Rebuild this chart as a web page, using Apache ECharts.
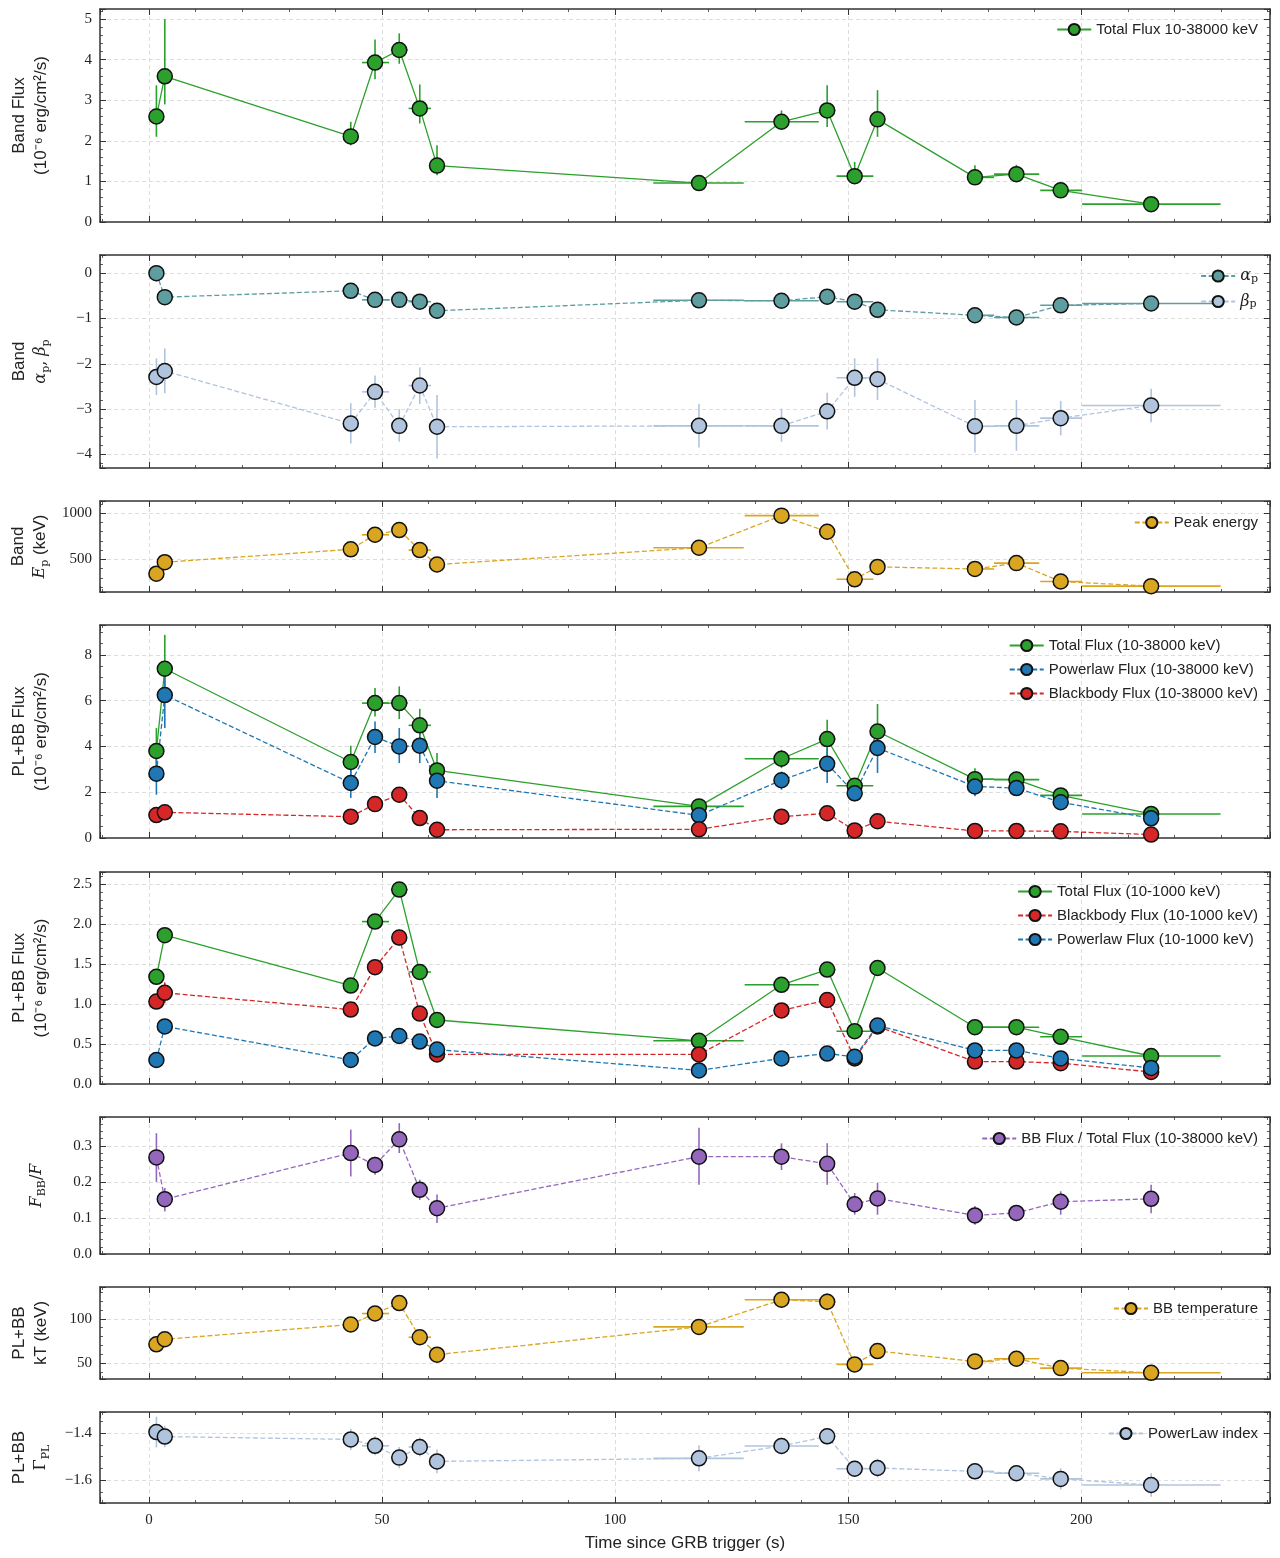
<!DOCTYPE html>
<html><head><meta charset="utf-8">
<script src="https://cdn.jsdelivr.net/npm/echarts@6/dist/echarts.min.js"></script>
<style>html,body{margin:0;padding:0;background:#fff}#c{width:1280px;height:1558px}</style>
</head><body><div id="c"></div>
<script>
// ---- time bins ----
const times = [1.6, 3.4, 43.3, 48.5, 53.7, 58.1, 61.8, 118.0, 135.7, 145.5, 151.4, 156.3, 177.2, 186.1, 195.6, 215.0];
const tLo   = [0.8, 2.4, 42.3, 45.7, 51.9, 55.7, 60.5, 108.2, 127.8, 143.7, 147.5, 155.4, 176.0, 181.3, 191.2, 200.2];
const tHi   = [2.4, 4.4, 44.3, 51.5, 55.5, 60.5, 63.1, 127.6, 143.7, 147.3, 155.4, 157.2, 181.3, 191.0, 200.2, 229.9];
const xTicks = [0, 50, 100, 150, 200];

// ---- panel 1: Band flux ----
const bandFlux   = [2.60, 3.59, 2.11, 3.93, 4.24, 2.80, 1.39, 0.96, 2.47, 2.75, 1.13, 2.53, 1.10, 1.18, 0.78, 0.44];
const bandFluxLo = [2.10, 2.90, 1.89, 3.52, 3.90, 2.43, 1.15, 0.88, 2.30, 2.34, 0.95, 2.10, 0.95, 0.99, 0.66, 0.38];
const bandFluxHi = [3.37, 5.00, 2.47, 4.50, 4.65, 3.39, 1.89, 1.05, 2.75, 3.37, 1.48, 3.25, 1.40, 1.41, 0.90, 0.50];

// ---- panel 2: Band alpha / beta ----
const alphaP    = [0.00, -0.53, -0.39, -0.59, -0.59, -0.63, -0.83, -0.60, -0.61, -0.52, -0.63, -0.81, -0.93, -0.98, -0.71, -0.67];
const alphaErr  = [0.18, 0.08, 0.06, 0.05, 0.05, 0.06, 0.07, 0.04, 0.05, 0.05, 0.06, 0.05, 0.05, 0.05, 0.04, 0.03];
const betaP     = [-2.29, -2.16, -3.32, -2.62, -3.37, -2.48, -3.39, -3.37, -3.37, -3.05, -2.31, -2.34, -3.38, -3.37, -3.20, -2.92];
const betaLo    = [-2.69, -2.65, -3.76, -2.97, -3.72, -2.89, -4.09, -3.85, -3.72, -3.45, -2.73, -2.80, -3.96, -3.92, -3.58, -3.29];
const betaHi    = [-1.88, -1.66, -2.87, -2.26, -3.00, -2.08, -2.69, -2.89, -2.99, -2.64, -1.88, -1.88, -2.80, -2.80, -2.82, -2.55];

// ---- panel 3: Band peak energy ----
const peakE    = [345, 469, 608, 765, 816, 600, 444, 625, 972, 798, 284, 418, 396, 459, 260, 210];
const peakEErr = [70, 60, 50, 45, 55, 55, 65, 70, 80, 90, 40, 50, 50, 50, 40, 30];

// ---- panel 4: PL+BB flux 10-38000 keV ----
const tot38   = [3.80, 7.39, 3.32, 5.89, 5.89, 4.92, 2.95, 1.38, 3.46, 4.32, 2.28, 4.65, 2.57, 2.55, 1.86, 1.05];
const tot38Lo = [2.76, 6.62, 2.62, 5.31, 5.19, 4.22, 2.25, 1.10, 3.05, 3.49, 1.82, 3.85, 2.18, 2.18, 1.60, 0.90];
const tot38Hi = [4.80, 8.87, 4.03, 6.55, 6.62, 5.64, 3.71, 1.68, 3.85, 5.16, 2.55, 5.85, 3.05, 2.90, 2.18, 1.20];
const pl38    = [2.81, 6.24, 2.40, 4.41, 4.00, 4.03, 2.50, 0.99, 2.52, 3.24, 1.95, 3.93, 2.25, 2.18, 1.56, 0.86];
const pl38Lo  = [1.89, 4.80, 1.75, 3.71, 3.27, 3.27, 1.75, 0.65, 2.11, 2.40, 1.60, 2.84, 1.82, 1.89, 1.24, 0.65];
const pl38Hi  = [3.78, 7.49, 3.13, 5.09, 4.80, 4.80, 3.27, 1.30, 2.90, 3.93, 2.25, 4.95, 2.62, 2.55, 1.82, 1.09];
const bb38    = [1.00, 1.12, 0.93, 1.48, 1.89, 0.87, 0.36, 0.38, 0.93, 1.08, 0.33, 0.73, 0.31, 0.31, 0.29, 0.15];
const bb38Err = [0.15, 0.15, 0.10, 0.12, 0.14, 0.10, 0.06, 0.06, 0.10, 0.12, 0.06, 0.08, 0.05, 0.05, 0.05, 0.04];

// ---- panel 5: PL+BB flux 10-1000 keV ----
const tot1k    = [1.34, 1.86, 1.23, 2.03, 2.43, 1.40, 0.80, 0.54, 1.24, 1.43, 0.66, 1.45, 0.71, 0.71, 0.59, 0.35];
const tot1kErr = [0.03, 0.08, 0.03, 0.04, 0.05, 0.03, 0.02, 0.02, 0.03, 0.04, 0.02, 0.03, 0.02, 0.02, 0.02, 0.02];
const bb1k     = [1.03, 1.14, 0.93, 1.46, 1.83, 0.88, 0.37, 0.37, 0.92, 1.05, 0.32, 0.72, 0.28, 0.28, 0.26, 0.15];
const bb1kErr  = [0.06, 0.13, 0.05, 0.07, 0.10, 0.06, 0.04, 0.04, 0.06, 0.09, 0.03, 0.05, 0.03, 0.03, 0.03, 0.02];
const pl1k     = [0.30, 0.72, 0.30, 0.57, 0.60, 0.53, 0.43, 0.17, 0.32, 0.38, 0.34, 0.73, 0.42, 0.42, 0.32, 0.20];
const pl1kErr  = [0.03, 0.05, 0.03, 0.04, 0.04, 0.04, 0.04, 0.02, 0.03, 0.03, 0.03, 0.05, 0.03, 0.03, 0.03, 0.02];

// ---- panel 6: BB / total ----
const bbRatio   = [0.268, 0.152, 0.280, 0.247, 0.318, 0.178, 0.127, 0.270, 0.270, 0.250, 0.138, 0.154, 0.107, 0.114, 0.145, 0.153];
const bbRatioLo = [0.200, 0.118, 0.215, 0.220, 0.280, 0.150, 0.086, 0.192, 0.233, 0.192, 0.109, 0.109, 0.081, 0.091, 0.109, 0.113];
const bbRatioHi = [0.335, 0.183, 0.345, 0.270, 0.363, 0.206, 0.165, 0.350, 0.307, 0.307, 0.169, 0.197, 0.133, 0.133, 0.174, 0.192];

// ---- panel 7: BB temperature ----
const kT    = [71.2, 76.9, 93.6, 106.0, 117.8, 79.2, 59.5, 90.9, 121.6, 119.3, 48.5, 63.6, 51.9, 54.9, 44.3, 39.0];
const kTErr = [5, 4, 5, 5, 5, 5, 4, 4, 5, 10, 4, 4, 4, 4, 3, 3];

// ---- panel 8: power-law index ----
const plIndex    = [-1.396, -1.415, -1.427, -1.454, -1.504, -1.459, -1.520, -1.507, -1.455, -1.414, -1.551, -1.548, -1.562, -1.570, -1.594, -1.620];
const plIndexErr = [0.065, 0.045, 0.045, 0.040, 0.045, 0.040, 0.050, 0.055, 0.035, 0.035, 0.035, 0.040, 0.035, 0.030, 0.045, 0.050];

// ---- styling / layout ----
const C = {green:'#2ca02c', teal:'#5f9ea0', steel:'#b0c4de', gold:'#daa520', blue:'#1f77b4', red:'#d62728', purple:'#9467bd'};
const SERIF = 'Liberation Serif';
const SANS = 'Liberation Sans';
const XMIN = -10.5, XMAX = 240.5;
const sym = (a, e) => a.map((v, i) => v - e[i]);
const symH = (a, e) => a.map((v, i) => v + e[i]);
const minus = s => String(s).replace('-', '\u2212');

const richMath = {
  m: {fontFamily: 'DejaVu Serif', fontStyle: 'italic', fontSize: 16, color: '#222'},
  c: {fontFamily: 'DejaVu Serif', fontSize: 16, color: '#222'},
  s: {fontFamily: 'DejaVu Serif', fontSize: 11, color: '#222', verticalAlign: 'bottom', padding: [6, 0, 0, 0]}
};

const panels = [
  {top: 9,    h: 213, min: 0,      max: 5.25,   step: 1,   split: 5, minor: 5, dec: 0, name: 'Band Flux\n(10\u207B\u2076 erg/cm\u00B2/s)', gap: 48},
  {top: 255,  h: 213, min: -4.30,  max: 0.40,   step: 1,   split: 5, minor: 5, dec: 0, name: 'Band\n{m|\u03B1}{s|p}{c|, }{m|\u03B2}{s|p}', gap: 48},
  {top: 501,  h: 91,  min: 147,    max: 1130,   step: 500, split: 2, minor: 5, dec: 0, name: 'Band\n{m|E}{s|p} (keV)', gap: 48},
  {top: 625,  h: 213, min: 0,      max: 9.3,    step: 2,   split: 5, minor: 4, dec: 0, name: 'PL+BB Flux\n(10\u207B\u2076 erg/cm\u00B2/s)', gap: 48},
  {top: 872,  h: 212, min: 0,      max: 2.65,   step: 0.5, split: 5, minor: 5, dec: 1, name: 'PL+BB Flux\n(10\u207B\u2076 erg/cm\u00B2/s)', gap: 48},
  {top: 1117, h: 137, min: 0,      max: 0.38,   step: 0.1, split: 4, minor: 5, dec: 1, name: '{m|F}{s|BB}{c|/}{m|F}', gap: 52},
  {top: 1287, h: 92,  min: 32,     max: 136,    step: 50,  split: 2, minor: 5, dec: 0, name: 'PL+BB\nkT (keV)', gap: 48},
  {top: 1412, h: 91,  min: -1.696, max: -1.311, step: 0.2, split: 2, minor: 4, dec: 1, name: 'PL+BB\n{c|\u0393}{s|PL}', gap: 48}
];

const grids = [], xAxes = [], yAxes = [], series = [], legends = [];
const frame = {show: true, onZero: false, lineStyle: {color: '#333', width: 1.5}};
const tickStyle = {show: true, inside: true, length: 6, lineStyle: {color: '#333', width: 1}};
const minorStyle = (n) => ({show: true, splitNumber: n, length: 3, lineStyle: {color: '#333', width: 0.8}});
const gridLine = {show: true, showMinLine: false, showMaxLine: false, lineStyle: {color: '#d4d4d4', type: [4, 3], width: 0.8}};

panels.forEach((p, i) => {
  grids.push({left: 100, right: 10, top: p.top, height: p.h, show: false, containLabel: false, outerBoundsMode: 'none'});
  const last = i === panels.length - 1;
  xAxes.push({type: 'value', gridIndex: i, min: XMIN, max: XMAX, splitNumber: 5, position: 'bottom',
    axisLine: frame, axisTick: tickStyle, minorTick: minorStyle(5), splitLine: gridLine,
    axisLabel: {show: last, margin: 10, fontFamily: SERIF, fontSize: 15, color: '#222', showMinLabel: true, showMaxLabel: true,
      formatter: v => xTicks.some(t => Math.abs(t - v) < 1e-6) ? String(v) : ''},
    name: last ? 'Time since GRB trigger (s)' : '', nameLocation: 'middle', nameGap: 32,
    nameTextStyle: {fontFamily: SANS, fontSize: 17, color: '#222'}});
  xAxes.push({type: 'value', gridIndex: i, min: XMIN, max: XMAX, splitNumber: 5, position: 'top',
    axisLine: frame, axisTick: tickStyle, minorTick: minorStyle(5), splitLine: {show: false}, axisLabel: {show: false}});
  const fmt = v => {
    const r = v / p.step;
    if (Math.abs(r - Math.round(r)) > 1e-6) return '';
    return minus(v.toFixed(p.dec));
  };
  yAxes.push({type: 'value', gridIndex: i, min: p.min, max: p.max, splitNumber: p.split, position: 'left',
    axisLine: frame, axisTick: tickStyle, minorTick: minorStyle(p.minor), splitLine: gridLine,
    axisLabel: {margin: 8, fontFamily: SERIF, fontSize: 15, color: '#222', formatter: fmt, showMinLabel: true, showMaxLabel: true},
    name: p.name, nameLocation: 'middle', nameGap: p.gap, nameRotate: 90,
    nameTextStyle: {fontFamily: SANS, fontSize: 17, color: '#222', lineHeight: 22, rich: richMath}});
  yAxes.push({type: 'value', gridIndex: i, min: p.min, max: p.max, splitNumber: p.split, position: 'right',
    axisLine: frame, axisTick: tickStyle, minorTick: minorStyle(p.minor), splitLine: {show: false}, axisLabel: {show: false}});
});

function errSeries(gi, ys, lo, hi, color, withX) {
  return {
    type: 'custom', name: '_err' + series.length, xAxisIndex: 2 * gi, yAxisIndex: 2 * gi, z: 2, silent: true,
    animation: false,
    data: times.map((t, k) => [t, ys[k], tLo[k], tHi[k], lo[k], hi[k]]),
    encode: {x: 0, y: 1},
    renderItem: (params, api) => {
      const x = api.value(0), y = api.value(1);
      const a = api.coord([api.value(2), y]), b = api.coord([api.value(3), y]);
      const c = api.coord([x, api.value(4)]), d = api.coord([x, api.value(5)]);
      const kids = [{type: 'line', shape: {x1: c[0], y1: c[1], x2: d[0], y2: d[1]}, style: {stroke: color, lineWidth: 1.6}}];
      if (withX) kids.push({type: 'line', shape: {x1: a[0], y1: a[1], x2: b[0], y2: b[1]}, style: {stroke: color, lineWidth: 1.6}});
      return {type: 'group', children: kids};
    }
  };
}
function lineSeries(name, gi, ys, color, dashed) {
  return {
    type: 'line', name, xAxisIndex: 2 * gi, yAxisIndex: 2 * gi, z: 3, animation: false,
    data: times.map((t, k) => [t, ys[k]]),
    symbol: 'circle', symbolSize: 15, showAllSymbol: true,
    lineStyle: {color, width: 1.3, type: dashed ? [5, 2.5] : 'solid'},
    itemStyle: {color, borderColor: '#111', borderWidth: 1.5},
    emphasis: {disabled: true}
  };
}
function add(name, gi, ys, lo, hi, color, dashed, withX) {
  series.push(errSeries(gi, ys, lo, hi, color, withX));
  series.push(lineSeries(name, gi, ys, color, dashed));
}

add('Total Flux 10-38000 keV', 0, bandFlux, bandFluxLo, bandFluxHi, C.green, false, true);
add('alpha', 1, alphaP, sym(alphaP, alphaErr), symH(alphaP, alphaErr), C.teal, true, true);
add('beta', 1, betaP, betaLo, betaHi, C.steel, true, true);
add('Peak energy', 2, peakE, sym(peakE, peakEErr), symH(peakE, peakEErr), C.gold, true, true);
add('Total Flux (10-38000 keV)', 3, tot38, tot38Lo, tot38Hi, C.green, false, true);
add('Powerlaw Flux (10-38000 keV)', 3, pl38, pl38Lo, pl38Hi, C.blue, true, false);
add('Blackbody Flux (10-38000 keV)', 3, bb38, sym(bb38, bb38Err), symH(bb38, bb38Err), C.red, true, false);
add('Total Flux (10-1000 keV)', 4, tot1k, sym(tot1k, tot1kErr), symH(tot1k, tot1kErr), C.green, false, true);
add('Blackbody Flux (10-1000 keV)', 4, bb1k, sym(bb1k, bb1kErr), symH(bb1k, bb1kErr), C.red, true, false);
add('Powerlaw Flux (10-1000 keV)', 4, pl1k, sym(pl1k, pl1kErr), symH(pl1k, pl1kErr), C.blue, true, false);
add('BB Flux / Total Flux (10-38000 keV)', 5, bbRatio, bbRatioLo, bbRatioHi, C.purple, true, false);
add('BB temperature', 6, kT, sym(kT, kTErr), symH(kT, kTErr), C.gold, true, true);
add('PowerLaw index', 7, plIndex, sym(plIndex, plIndexErr), symH(plIndex, plIndexErr), C.steel, true, true);

const legText = {fontFamily: SANS, fontSize: 15, color: '#222'};
function legend(names, top, extra) {
  return Object.assign({data: names, orient: 'vertical', right: 22, top, padding: 0, itemGap: 9,
    itemWidth: 34, itemHeight: 14, selectedMode: false, textStyle: legText}, extra || {});
}
legends.push(legend(['Total Flux 10-38000 keV'], 22));
legends.push(legend(['alpha', 'beta'], 268, {formatter: n => n === 'alpha' ? '{m|\u03B1}{s|p}' : '{m|\u03B2}{s|p}',
  textStyle: {fontFamily: 'DejaVu Serif', fontSize: 15, color: '#222', rich: richMath}}));
legends.push(legend(['Peak energy'], 515));
legends.push(legend(['Total Flux (10-38000 keV)', 'Powerlaw Flux (10-38000 keV)', 'Blackbody Flux (10-38000 keV)'], 638));
legends.push(legend(['Total Flux (10-1000 keV)', 'Blackbody Flux (10-1000 keV)', 'Powerlaw Flux (10-1000 keV)'], 884));
legends.push(legend(['BB Flux / Total Flux (10-38000 keV)'], 1131));
legends.push(legend(['BB temperature'], 1301));
legends.push(legend(['PowerLaw index'], 1426));

const chart = echarts.init(document.getElementById('c'), null, {renderer: 'canvas'});
chart.setOption({
  animation: false,
  backgroundColor: '#fff',
  grid: grids, xAxis: xAxes, yAxis: yAxes, legend: legends, series
});
</script></body></html>
